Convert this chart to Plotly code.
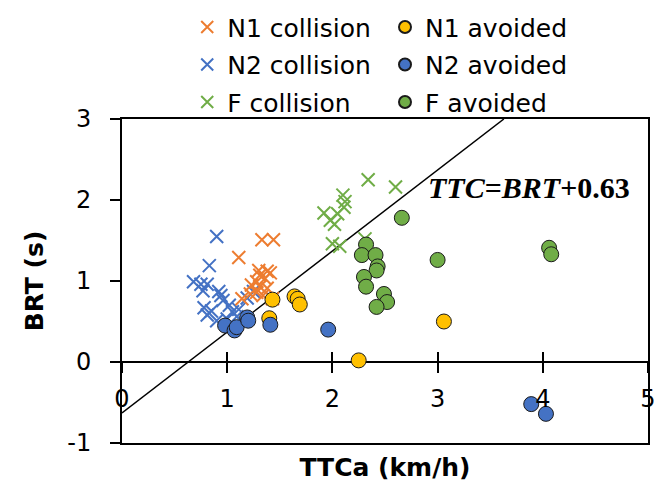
import plotly.graph_objects as go

# ---- data (TTCa, BRT) ----
n1_col_x = [1.33, 1.44, 1.11, 1.30, 1.38, 1.41, 1.31, 1.36, 1.28, 1.23, 1.31, 1.38, 1.28, 1.34, 1.43, 1.14, 1.22]
n1_col_y = [1.51, 1.51, 1.29, 1.13, 1.12, 1.10, 1.07, 1.03, 0.99, 0.95, 0.93, 0.91, 0.86, 0.82, 0.78, 0.78, 0.84]

n2_col_x = [0.90, 0.83, 0.68, 0.75, 0.81, 0.77, 0.92, 0.94, 0.96, 1.25, 1.19, 0.78, 0.85, 0.81, 1.02, 1.05, 1.11, 1.09, 0.90, 1.00]
n2_col_y = [1.55, 1.19, 0.99, 0.96, 0.96, 0.88, 0.87, 0.82, 0.76, 0.87, 0.79, 0.67, 0.63, 0.58, 0.70, 0.62, 0.65, 0.56, 0.51, 0.53]

f_col_x = [2.34, 2.60, 2.10, 2.12, 2.11, 1.92, 2.05, 1.98, 2.02, 2.00, 2.07, 2.31]
f_col_y = [2.25, 2.16, 2.06, 1.98, 1.91, 1.84, 1.83, 1.75, 1.70, 1.46, 1.43, 1.52]

n1_av_x = [1.43, 1.64, 1.67, 1.69, 1.40, 2.25, 3.06]
n1_av_y = [0.77, 0.81, 0.78, 0.71, 0.54, 0.02, 0.50]

n2_av_x = [0.98, 1.07, 1.09, 1.19, 1.20, 1.41, 1.96, 3.89, 4.03]
n2_av_y = [0.45, 0.39, 0.43, 0.55, 0.51, 0.46, 0.40, -0.52, -0.64]

f_av_x = [2.66, 2.32, 2.28, 2.41, 2.43, 2.42, 2.30, 2.32, 2.49, 2.52, 2.42, 3.00, 4.06, 4.08]
f_av_y = [1.78, 1.45, 1.32, 1.32, 1.18, 1.13, 1.05, 0.93, 0.84, 0.74, 0.68, 1.26, 1.41, 1.33]

offset = 0.63  # TTC = BRT + 0.63
y_range = [-1, 3]
x_range = [0, 5]
x_tick_vals = [0, 1, 2, 3, 4, 5]
y_tick_vals = [-1, 0, 1, 2, 3]
y_tick_text = ["-1", "0", "1", "2", "3"]

ORANGE = "#ED7D31"
BLUE = "#4472C4"
GREEN = "#70AD47"
YELLOW = "#FFC000"

FONT = "DejaVu Sans"

fig = go.Figure()

# reference line TTC = BRT + 0.63  ->  BRT = TTC - 0.63  (bottom layer, main axis)
line_x = [x_range[0], y_range[1] + offset]
line_y = [x - offset for x in line_x]
fig.add_trace(go.Scatter(x=line_x, y=line_y, mode="lines", xaxis="x", yaxis="y",
                         line=dict(color="black", width=1.5),
                         showlegend=False, hoverinfo="skip"))


def cross(name, xs, ys, color, rank):
    return go.Scatter(x=xs, y=ys, mode="markers", name=name, xaxis="x2", yaxis="y",
                      legend="legend", legendgroup=name, legendrank=rank,
                      marker=dict(symbol="x-thin", size=13, color=color,
                                  line=dict(color=color, width=2)))


def dot(name, xs, ys, color, rank):
    return go.Scatter(x=xs, y=ys, mode="markers", name=name, xaxis="x3", yaxis="y",
                      legend="legend2", legendgroup=name, legendrank=rank,
                      marker=dict(symbol="circle", size=15, color=color,
                                  line=dict(color="#1a1a1a", width=1)))


fig.add_trace(cross("N2 collision", n2_col_x, n2_col_y, BLUE, 2))
fig.add_trace(cross("N1 collision", n1_col_x, n1_col_y, ORANGE, 1))
fig.add_trace(cross("F collision", f_col_x, f_col_y, GREEN, 3))
fig.add_trace(dot("N1 avoided", n1_av_x, n1_av_y, YELLOW, 1))
fig.add_trace(dot("N2 avoided", n2_av_x, n2_av_y, BLUE, 2))
fig.add_trace(dot("F avoided", f_av_x, f_av_y, GREEN, 3))

zero_pos = (0 - y_range[0]) / (y_range[1] - y_range[0])

legend_common = dict(font=dict(family=FONT, size=25, color="black"),
                     bgcolor="rgba(0,0,0,0)", borderwidth=0,
                     itemsizing="constant", traceorder="grouped",
                     tracegroupgap=2, xanchor="left", yanchor="top",
                     orientation="v")

fig.update_layout(
    template="none",
    width=654, height=487,
    margin=dict(l=122, r=6, t=119, b=44, autoexpand=False),
    paper_bgcolor="white", plot_bgcolor="white",
    font=dict(family=FONT, size=24, color="black"),
    legend=dict(x=0.124, y=1.354, **legend_common),
    legend2=dict(x=0.5, y=1.354, **legend_common),
    xaxis=dict(range=x_range, showline=True, mirror=True, linecolor="black",
               linewidth=2, showgrid=False, zeroline=False, automargin=False,
               showticklabels=False, ticks="",
               title=dict(text="<b>TTCa (km/h)</b>", standoff=14,
                          font=dict(family=FONT, size=25))),
    xaxis2=dict(range=x_range, overlaying="x", anchor="free", position=zero_pos,
                showline=False, showgrid=False, zeroline=False, automargin=False,
                tickvals=x_tick_vals, ticks="outside", ticklen=10, tickwidth=2,
                tickcolor="black", ticklabelstandoff=5, ticklabeloverflow="allow",
                tickfont=dict(family=FONT, size=24)),
    xaxis3=dict(range=x_range, overlaying="x", anchor="free", position=zero_pos,
                showline=False, showgrid=False, zeroline=False, automargin=False,
                tickvals=x_tick_vals, ticks="inside", ticklen=10, tickwidth=2,
                tickcolor="black", showticklabels=False),
    yaxis=dict(range=y_range, showline=True, mirror=True, linecolor="black",
               linewidth=2, showgrid=False, zeroline=True, zerolinecolor="black",
               zerolinewidth=2, tickvals=y_tick_vals, ticktext=y_tick_text,
               automargin=False,
               ticks="outside", ticklen=10, tickwidth=2,
               tickcolor="black", ticklabelstandoff=14,
               tickfont=dict(family=FONT, size=24),
               title=dict(text="<b>BRT (s)</b>", standoff=17,
                          font=dict(family=FONT, size=25))),
    annotations=[dict(x=3.87, y=2.15, xref="x", yref="y", showarrow=False,
                      text="<b><i>TTC</i>=<i>BRT</i>+0.63</b>",
                      font=dict(family="Liberation Serif", size=30, color="black"))],
)

fig.write_html("out.html")
